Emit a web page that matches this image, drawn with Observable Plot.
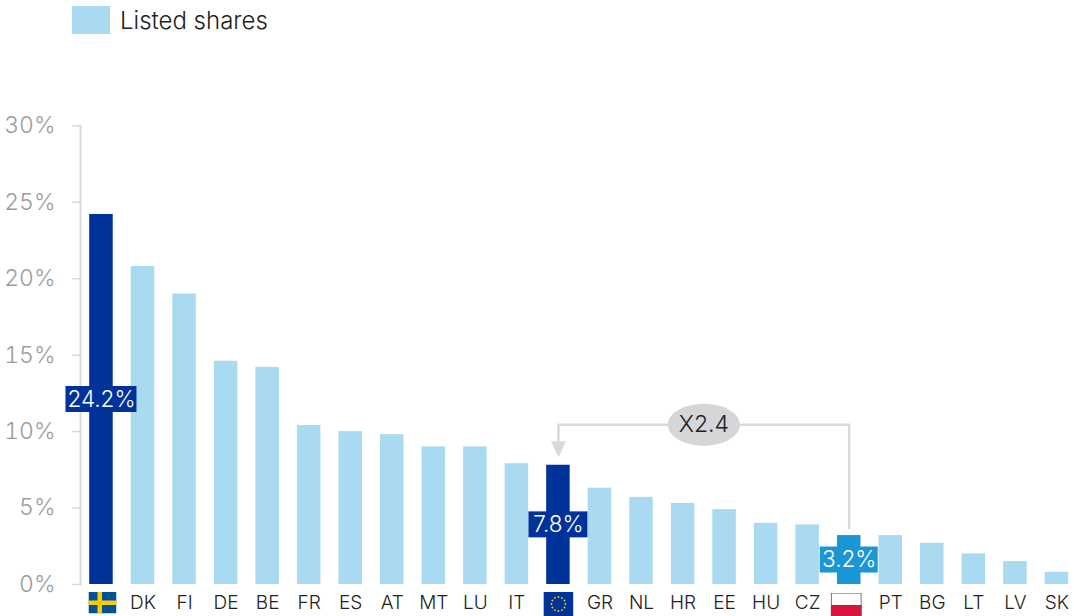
<!DOCTYPE html>
<html><head><meta charset="utf-8">
<script src="https://cdn.jsdelivr.net/npm/d3@7"></script>
<script src="https://cdn.jsdelivr.net/npm/@observablehq/plot@0.6"></script>
<style>
html,body{margin:0;padding:0;background:#fff;overflow:hidden}
#legend{position:relative;height:60px;font:300 24px Inter,sans-serif;color:#222}
#legend i{position:absolute;left:72px;top:6px;width:38px;height:28px;background:#aadaf2}
#legend span{position:absolute;left:120px;top:7px;line-height:28px;white-space:nowrap}
</style></head><body>
<div id="legend"><i></i><span>Listed shares</span></div>
<div id="chart"></div>
<script>
const codes = ["SE","DK","FI","DE","BE","FR","ES","AT","MT","LU","IT","EU","GR","NL","HR","EE","HU","CZ","PL","PT","BG","LT","LV","SK"];
const values = [24.2,20.8,19,14.6,14.2,10.4,10,9.8,9,9,7.9,7.8,6.3,5.7,5.3,4.9,4,3.9,3.2,3.2,2.7,2,1.5,0.8];
const flagged = ["SE","EU","PL"];
const yTicks = [0,5,10,15,20,25,30];
const connectorX = ["PL","PL","EU","EU"];
const connectorY = [3.7,10.44,10.44,9.2];

const LIGHT="#aadaf2", DARK="#003399", MID="#1a96d4", GREY="#d9d9d9", FONT="Inter, sans-serif";
const colorOf = {SE:DARK,EU:DARK,PL:MID};
const rows = codes.map((code,i)=>({code,value:values[i]}));
const highlights = [{code:"SE",w:71},{code:"EU",w:59},{code:"PL",w:58}];

const svgUri = s => "data:image/svg+xml;utf8,"+encodeURIComponent(s);
const stars = d3.range(12).map(i=>{const a=i*Math.PI/6;return `<circle cx="${15+7*Math.cos(a)}" cy="${12+7*Math.sin(a)}" r="0.9" fill="#ffcc00"/>`}).join("");
const flags = [
 {code:"SE",w:28,h:22,dx:1,dy:18,src:svgUri(`<svg xmlns="http://www.w3.org/2000/svg" width="28" height="22"><rect width="28" height="22" fill="#005293"/><rect x="9" width="4.5" height="22" fill="#fecb00"/><rect y="9" width="28" height="4.5" fill="#fecb00"/></svg>`)},
 {code:"EU",w:30,h:24,dx:0,dy:19.5,src:svgUri(`<svg xmlns="http://www.w3.org/2000/svg" width="30" height="24"><rect width="30" height="24" fill="#003399"/>${stars}</svg>`)},
 {code:"PL",w:31,h:24,dx:-3,dy:20,src:svgUri(`<svg xmlns="http://www.w3.org/2000/svg" width="31" height="24"><rect width="31" height="24" fill="#fff"/><rect y="12.5" width="31" height="11.5" fill="#dc143c"/><rect x=".5" y=".5" width="30" height="23" fill="none" stroke="#555"/></svg>`)}
];
const ellipse = {draw(c){const rx=36,ry=21,k=.5523;c.moveTo(-rx,0);
 c.bezierCurveTo(-rx,-k*ry,-k*rx,-ry,0,-ry);c.bezierCurveTo(k*rx,-ry,rx,-k*ry,rx,0);
 c.bezierCurveTo(rx,k*ry,k*rx,ry,0,ry);c.bezierCurveTo(-k*rx,ry,-rx,k*ry,-rx,0);c.closePath();}};
const arrowHead = {draw(c){c.moveTo(-7.5,-8);c.lineTo(7.5,-8);c.lineTo(0,8);c.closePath();}};

const labelMarks = highlights.flatMap(({code,w})=>{
  const v = values[codes.indexOf(code)];
  return [
    Plot.barY([{code,a:v/2-0.85,b:v/2+0.85}],{x:"code",y1:"a",y2:"b",fill:colorOf[code],insetLeft:-(w-23.5)/2,insetRight:-(w-23.5)/2}),
    Plot.text([{code,v}],{x:"code",y:d=>d.v/2,text:d=>d.v.toFixed(1)+"%",fill:"#fff",fontSize:22.5,fontWeight:300,fontFamily:FONT})
  ];
});

const chart = Plot.plot({
  width:1074,height:556,marginLeft:80,marginTop:65.3,marginBottom:32,marginRight:0,
  style:{fontFamily:FONT,background:"transparent",overflow:"visible"},
  x:{domain:codes,range:[80.2,1077.2],paddingInner:.434,paddingOuter:.217,round:false,label:null},
  y:{domain:[0,30],label:null},
  marks:[
    Plot.barY(rows,{x:"code",y:"value",fill:d=>colorOf[d.code]||LIGHT}),
    Plot.frame({anchor:"left",stroke:GREY,strokeWidth:2}),
    Plot.axisY({ticks:yTicks,tickSize:8,tickPadding:17,stroke:GREY,strokeWidth:1.5,strokeOpacity:1,fill:"#9c9c9c",fontSize:23,fontWeight:300,tickFormat:d=>d+"%",label:null}),
    Plot.axisX({tickSize:0,tickPadding:11,fill:"#222",fontSize:19,fontWeight:300,label:null,tickFormat:d=>flagged.includes(d)?"":d}),
    ...flags.map(f=>Plot.image([f],{x:"code",y:()=>0,src:"src",width:f.w,height:f.h,dx:f.dx,dy:f.dy})),
    Plot.line(connectorX.map((x,i)=>({x,y:connectorY[i]})),{x:"x",y:"y",stroke:GREY,strokeWidth:2.5,curve:"linear"}),
    Plot.dot([{code:"EU",v:8.85}],{x:"code",y:"v",symbol:arrowHead,fill:GREY,stroke:null}),
    Plot.dot([{code:"HR"}],{x:"code",y:()=>10.44,dx:20.8,symbol:ellipse,fill:"#d5d6d8",stroke:null}),
    Plot.text([{code:"HR"}],{x:"code",y:()=>10.44,dx:20.8,text:()=>"X2.4",fill:"#222",fontSize:23,fontWeight:300,fontFamily:FONT}),
    ...labelMarks
  ]
});
document.getElementById("chart").append(chart);
</script></body></html>
